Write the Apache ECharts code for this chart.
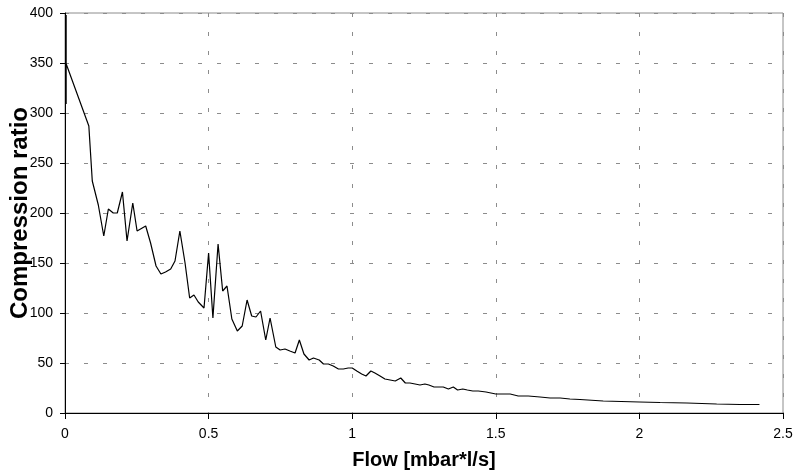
<!DOCTYPE html>
<html lang="en">
<head>
    <meta charset="UTF-8" />
    <title>Compression ratio vs flow</title>
    <script src="https://cdn.jsdelivr.net/npm/echarts@6/dist/echarts.min.js"></script>
    <style>
        body { margin: 0; background: #fff; }
    </style>
</head>
<body>
    <div id="chart" style="width: 797px; height: 472px"></div>

    <script>
        // flow values (x) and compression ratio (y)
        var flow = [
            0.004, 0.004, 0.003, 0.083, 0.095, 0.116, 0.135, 0.151, 0.168, 0.182,
            0.200, 0.216, 0.236, 0.251, 0.281, 0.298, 0.317, 0.334, 0.350, 0.368,
            0.383, 0.400, 0.418, 0.434, 0.449, 0.464, 0.484, 0.500, 0.515, 0.533,
            0.549, 0.564, 0.581, 0.600, 0.617, 0.634, 0.650, 0.665, 0.681, 0.699,
            0.714, 0.734, 0.749, 0.766, 0.783, 0.801, 0.816, 0.832, 0.850, 0.865,
            0.885, 0.900, 0.917, 0.934, 0.952, 0.969, 0.986, 1.000, 1.016, 1.033,
            1.048, 1.065, 1.079, 1.097, 1.114, 1.132, 1.150, 1.169, 1.185, 1.201,
            1.219, 1.236, 1.253, 1.267, 1.285, 1.300, 1.317, 1.335, 1.352, 1.367,
            1.385, 1.401, 1.420, 1.439, 1.466, 1.483, 1.500, 1.526, 1.550, 1.578,
            1.613, 1.654, 1.689, 1.724, 1.758, 1.793, 1.874, 2.000, 2.072, 2.165,
            2.269, 2.350, 2.418
        ];
        var ratio = [
            398, 309, 350, 287, 232, 208, 177, 204, 200, 200,
            221, 172, 210, 182, 187, 170, 147, 139, 141, 144,
            152, 182, 150, 115, 118, 111, 105, 160, 95, 169,
            122, 127, 94, 82, 87, 113, 97, 96, 102, 73,
            95, 66, 63, 64, 62, 60, 73, 59, 53, 55,
            53, 49, 49, 47, 44, 44, 45, 45, 42, 39,
            37, 42, 40, 37, 34, 33, 32, 35, 30, 30,
            29, 28, 29, 28, 26, 26, 26, 24, 26, 23,
            24, 23, 22, 22, 21, 20, 19, 19, 19, 17,
            17, 16, 15, 15, 14, 13.5, 12, 11, 10.5, 10,
            9, 8.5, 8.5
        ];

        var xTicks = { min: 0, max: 2.5, interval: 0.5 };
        var yTicks = { min: 0, max: 400, interval: 50 };

        var points = flow.map(function (x, i) { return [x, ratio[i]]; });

        var font = "Liberation Sans, Arial, sans-serif";
        var gridLine = { show: true, lineStyle: { color: "#8c8c8c", type: [4, 15], width: 1 } };

        var chart = echarts.init(document.getElementById("chart"));
        chart.setOption({
            animation: false,
            backgroundColor: "#fff",
            grid: {
                left: 65, right: 14, top: 13, bottom: 59,
                containLabel: false,
                outerBoundsMode: "none",
                show: true, borderColor: "#8c8c8c", borderWidth: 1
            },
            xAxis: {
                type: "value",
                min: xTicks.min, max: xTicks.max, interval: xTicks.interval,
                name: "Flow [mbar*l/s]",
                nameLocation: "middle",
                nameGap: 37,
                nameMoveOverlap: false,
                nameTextStyle: { fontFamily: font, fontSize: 20, fontWeight: "bold", color: "#000" },
                axisLine: { onZero: false, lineStyle: { color: "#000", width: 1 } },
                axisTick: { show: true, length: 6, lineStyle: { color: "#000" } },
                axisLabel: { margin: 14, fontFamily: font, fontSize: 14, color: "#000" },
                splitLine: gridLine
            },
            yAxis: {
                type: "value",
                min: yTicks.min, max: yTicks.max, interval: yTicks.interval,
                name: "Compression ratio",
                nameLocation: "middle",
                nameGap: 33,
                nameMoveOverlap: false,
                nameTextStyle: { fontFamily: font, fontSize: 24, fontWeight: "bold", color: "#000" },
                axisLine: { show: true, lineStyle: { color: "#000", width: 1 } },
                axisTick: { show: true, length: 5, lineStyle: { color: "#000" } },
                axisLabel: { margin: 12, fontFamily: font, fontSize: 14, color: "#000" },
                splitLine: gridLine
            },
            series: [
                {
                    type: "line",
                    data: points,
                    showSymbol: false,
                    symbol: "none",
                    lineStyle: { color: "#000", width: 1.2 }
                }
            ]
        });
    </script>
</body>
</html>
